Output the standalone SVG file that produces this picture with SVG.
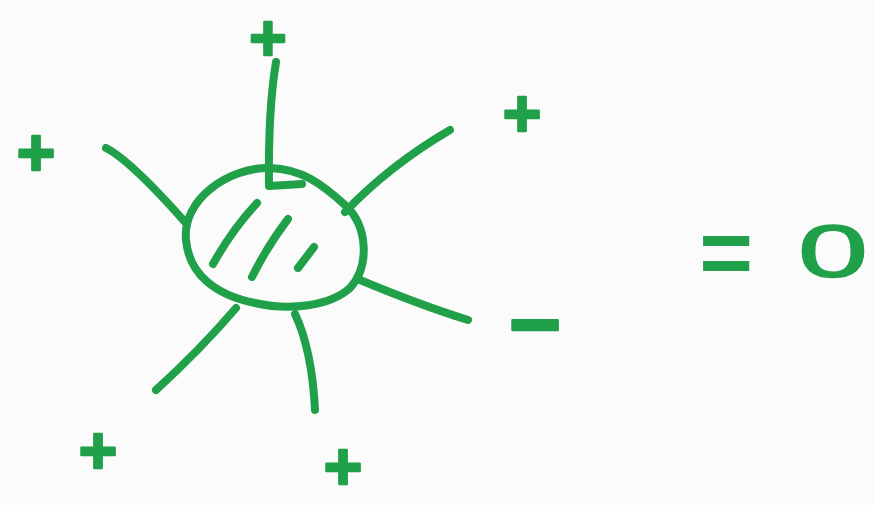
<svg xmlns="http://www.w3.org/2000/svg" width="874" height="505" viewBox="0 0 874 505">
<style>
.ink{fill:none;stroke:#21a04a;stroke-width:8;stroke-linecap:round;stroke-linejoin:round}
.sign{fill:#21a04a;stroke:#21a04a;stroke-width:2.5;stroke-linejoin:round;font-family:"Liberation Sans",Arial,sans-serif;font-weight:bold;text-anchor:middle}
.plain{stroke-width:0}
.zero{font-weight:normal;stroke-width:1.5}
</style>
<rect width="874" height="505" fill="#fbfbfb"/>
<g id="particle">
<path class="ink" d="M186,240 C182,200 228,167 270,168 C302,169 322,184 345,205 C368,226 370,266 350,288 C330,306 290,311 255,303 C215,295 189,274 186,240 Z"/>
<path class="ink" d="M213,264 Q232,230 257,203"/>
<path class="ink" d="M252,277 Q268,245 288,219"/>
<path class="ink" d="M298,268 L314,247"/>
</g>
<g id="rays">
<path class="ink" d="M276,62 Q268,110 269,186 L302,184"/>
<path class="ink" d="M106,148 Q130,160 185,222"/>
<path class="ink" d="M345,212 Q390,165 450,130"/>
<path class="ink" d="M360,280 Q420,305 468,320"/>
<path class="ink" d="M236,308 Q200,350 156,390"/>
<path class="ink" d="M295,314 Q312,350 315,410"/>
</g>
<g id="signs">
<text class="sign" x="268" y="60" font-size="64">+</text>
<text class="sign" x="36" y="175" font-size="66">+</text>
<text class="sign" x="522" y="136" font-size="66">+</text>
<text class="sign" x="98" y="473" font-size="66">+</text>
<text class="sign" x="343" y="489" font-size="66">+</text>
<text class="sign" x="535" y="355" font-size="90">−</text>
</g>
<g id="result">
<text class="sign plain" x="726" y="284" font-size="92">=</text>
<text class="sign zero" transform="translate(833,277) scale(1.7,1)" x="0" y="0" font-size="74">0</text>
</g>
</svg>
